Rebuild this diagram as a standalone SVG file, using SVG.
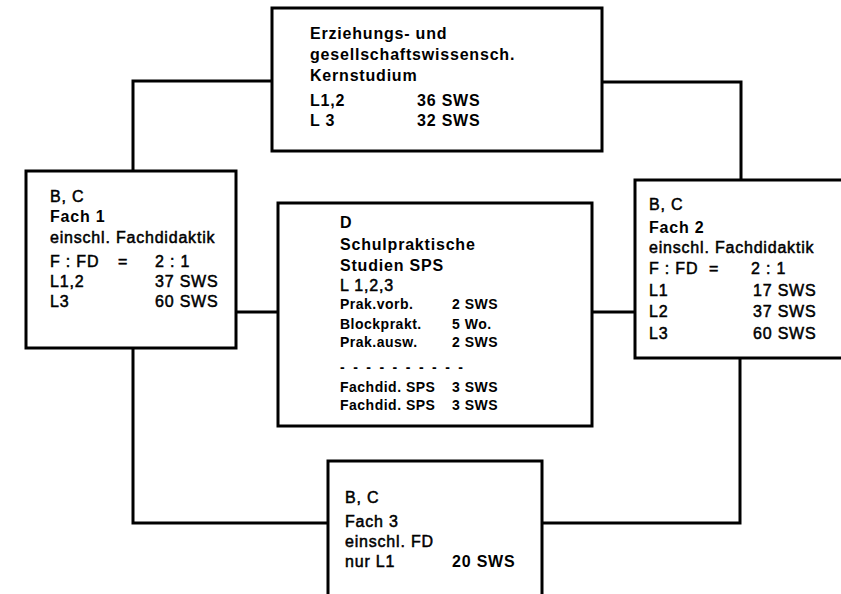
<svg xmlns="http://www.w3.org/2000/svg" width="841" height="594" viewBox="0 0 841 594">
<style>
.box{fill:#fff;stroke:#000;stroke-width:3}
.ln{fill:none;stroke:#000;stroke-width:3}
text{font-family:"Liberation Sans",Arial,sans-serif;font-size:16px;letter-spacing:0.8px;fill:#000}
.b{font-weight:bold}
.m{stroke:#000;stroke-width:0.5}
.s{font-size:14px;letter-spacing:0.5px;font-weight:bold}
.dash{letter-spacing:2.3px}
</style>
<rect width="841" height="594" fill="#fff"/>
<g id="connectors">
<polyline class="ln" points="133,171 133,81 272,81"/>
<polyline class="ln" points="602,82 741,82 741,180"/>
<line class="ln" x1="236" y1="312" x2="278" y2="312"/>
<line class="ln" x1="592" y1="312" x2="635" y2="312"/>
<polyline class="ln" points="133,348 133,523 328,523"/>
<polyline class="ln" points="740,358 740,523 542,523"/>
</g>
<g id="kernstudium">
<rect class="box" x="272" y="8" width="330" height="143"/>
<text class="b" x="310" y="39">Erziehungs- und</text>
<text class="b" x="310" y="60">gesellschaftswissensch.</text>
<text class="b" x="310" y="81">Kernstudium</text>
<text class="b" x="310" y="106">L1,2</text>
<text class="b" x="417" y="106">36 SWS</text>
<text class="b" x="310" y="126">L 3</text>
<text class="b" x="417" y="126">32 SWS</text>
</g>
<g id="fach1">
<rect class="box" x="26" y="171" width="210" height="177"/>
<text class="m" x="50" y="202">B, C</text>
<text class="b" x="50" y="222">Fach 1</text>
<text class="m" x="50" y="243">einschl. Fachdidaktik</text>
<text class="m" x="50" y="267">F : FD</text>
<text class="m" x="118" y="267">=</text>
<text class="m" x="155" y="267">2 : 1</text>
<text class="m" x="50" y="287">L1,2</text>
<text class="m" x="155" y="287">37 SWS</text>
<text class="m" x="50" y="307">L3</text>
<text class="m" x="155" y="307">60 SWS</text>
</g>
<g id="fach2">
<rect class="box" x="635" y="180" width="220" height="178"/>
<text class="m" x="649" y="210">B, C</text>
<text class="b" x="649" y="233">Fach 2</text>
<text class="m" x="649" y="253">einschl. Fachdidaktik</text>
<text class="m" x="649" y="274">F : FD</text>
<text class="m" x="709" y="274">=</text>
<text class="m" x="751" y="274">2 : 1</text>
<text class="m" x="649" y="296">L1</text>
<text class="m" x="753" y="296">17 SWS</text>
<text class="m" x="649" y="317">L2</text>
<text class="m" x="753" y="317">37 SWS</text>
<text class="m" x="649" y="339">L3</text>
<text class="m" x="753" y="339">60 SWS</text>
</g>
<g id="sps">
<rect class="box" x="278" y="203" width="314" height="223"/>
<text class="b" x="340" y="228">D</text>
<text class="b" x="340" y="250">Schulpraktische</text>
<text class="b" x="340" y="271">Studien SPS</text>
<text class="m" x="340" y="291">L 1,2,3</text>
<text class="s" x="340" y="309">Prak.vorb.</text>
<text class="s" x="452" y="309">2 SWS</text>
<text class="s" x="340" y="329">Blockprakt.</text>
<text class="s" x="452" y="329">5 Wo.</text>
<text class="s" x="340" y="347">Prak.ausw.</text>
<text class="s" x="452" y="347">2 SWS</text>
<text class="s dash" x="340" y="372">- - - - - - - - - -</text>
<text class="s" x="340" y="392">Fachdid. SPS</text>
<text class="s" x="452" y="392">3 SWS</text>
<text class="s" x="340" y="410">Fachdid. SPS</text>
<text class="s" x="452" y="410">3 SWS</text>
</g>
<g id="fach3">
<rect class="box" x="328" y="461" width="214" height="150"/>
<text class="m" x="345" y="503">B, C</text>
<text class="m" x="345" y="527">Fach 3</text>
<text class="m" x="345" y="547">einschl. FD</text>
<text class="m" x="345" y="567">nur L1</text>
<text class="b" x="452" y="567">20 SWS</text>
</g>
</svg>
